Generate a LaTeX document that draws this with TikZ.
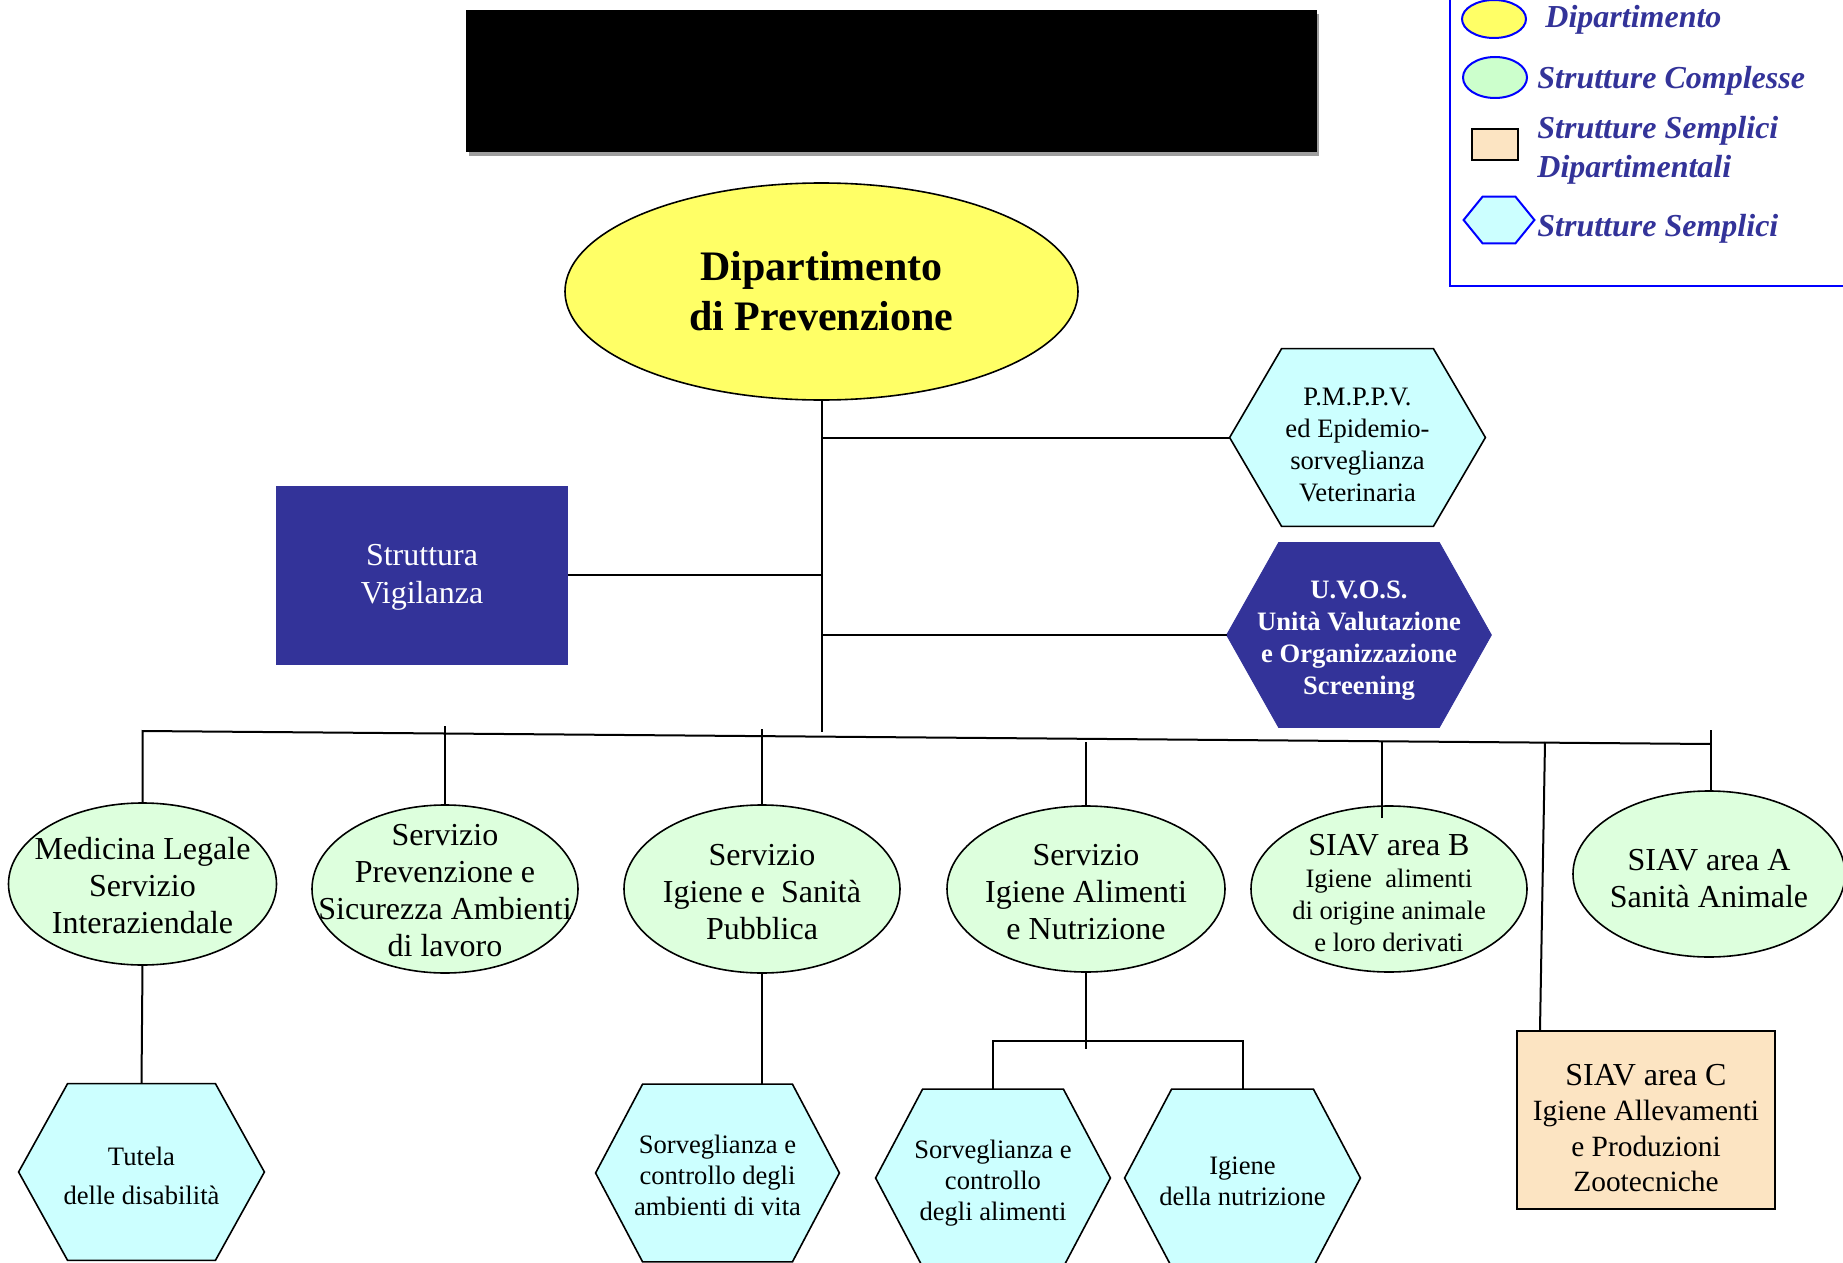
\documentclass[tikz,border=0pt]{standalone}
\usepackage{fontspec}
\setmainfont{Liberation Serif}
\usetikzlibrary{shapes.geometric}
\definecolor{navyb}{HTML}{333399}
\definecolor{yelf}{HTML}{FFFF66}
\definecolor{grnf}{HTML}{DDFFDD}
\definecolor{grnl}{HTML}{CCFFCC}
\definecolor{cyanf}{HTML}{CCFFFF}
\definecolor{wheatf}{HTML}{FCE4C2}
\definecolor{legb}{HTML}{0000FF}
\newcommand\szBig{\fontsize{16}{18.5}\selectfont}
\newcommand\szHex{\fontsize{13.3}{15.5}\selectfont}
\newcommand\szPM{\fontsize{13.3}{16}\selectfont}
% name, cx, cy, hw, hh, inset (px), shape style, text style, text
\newcommand\hexnode[9]{%
  \node[inner sep=0pt, minimum width=#4pt, minimum height=#5pt] (#1) at (#2,#3) {};
  \path[#7] (#1.west) -- ([xshift=#6*0.5pt]#1.north west) -- ([xshift=-#6*0.5pt]#1.north east) -- (#1.east) -- ([xshift=-#6*0.5pt]#1.south east) -- ([xshift=#6*0.5pt]#1.south west) -- cycle;
  \node[#8] (#1-t) at (#1.center) {#9};
}
\tikzset{
  conn/.style={line width=1pt, draw=black},
  ellnode/.style={ellipse, inner sep=0pt, draw=black, line width=0.8pt},
  cplx/.style={ellnode, fill=grnf},
  lbl/.style={align=center, inner sep=0pt, text=black},
  hexs/.style={draw=black, line width=0.8pt, fill=cyanf},
  legtxt/.style={anchor=base west, inner sep=0pt, text=navyb, font=\fontsize{16}{19}\selectfont\bfseries\itshape},
}
\begin{document}
\begin{tikzpicture}[x=0.5pt,y=-0.5pt]
\useasboundingbox (0,0) rectangle (1843,1263);
\fill[white] (0,0) rectangle (1843,1263);

% title bar
\fill[black!38] (469,14) rectangle (1319,156);
\fill[black] (466,10) rectangle (1317,152);

% legend
\draw[legb, line width=1.3pt] (1450,-5) -- (1450,286) -- (1850,286);
\node[ellnode, draw=legb, line width=1pt, fill=yelf, minimum width=32pt, minimum height=19pt] (lg1) at (1494,19) {};
\node[legtxt] (lg1-t) at (1545,28) {Dipartimento};
\node[ellnode, draw=legb, line width=1pt, fill=grnl, minimum width=32pt, minimum height=20.5pt] (lg2) at (1495,77.5) {};
\node[legtxt] (lg2-t) at (1537,89) {Strutture Complesse};
\node[draw=black, line width=1pt, fill=wheatf, inner sep=0pt, minimum width=23pt, minimum height=15.5pt] (lg3) at (1495,144.5) {};
\node[legtxt] (lg3-t) at (1537,139) {Strutture Semplici};
\node[legtxt] (lg3-u) at (1537,177) {Dipartimentali};
\hexnode{lg4}{1499}{220}{35}{23}{19}{draw=legb, line width=1pt, fill=cyanf}{lbl}{}
\node[legtxt] (lg4-t) at (1537,236) {Strutture Semplici};

% main department
\node[ellnode, fill=yelf, minimum width=256.5pt, minimum height=108.5pt] (dep) at (821.5,291.5) {};
\node[lbl, font=\fontsize{21}{25}\selectfont\bfseries] (dep-t) at (dep.center) {Dipartimento\\di Prevenzione};

% Struttura Vigilanza
\node[fill=navyb, inner sep=0pt, minimum width=146pt, minimum height=89.5pt] (sv) at (422,575) {};
\node[lbl, text=white, font=\fontsize{16}{19}\selectfont] (sv-t) at ([yshift=-1pt]sv.center) {Struttura\\Vigilanza};

% right hexagons
\hexnode{pm}{1357.5}{437.5}{127.5}{88.5}{52}{hexs}{lbl, font=\szPM, yshift=-3.5pt}{P.M.P.P.V.\\ed Epidemio-\\sorveglianza\\Veterinaria}
\hexnode{uv}{1359}{635}{132}{92}{52}{fill=navyb, draw=navyb}{lbl, text=white, yshift=-3pt, font=\fontsize{13.3}{16}\selectfont\bfseries}{U.V.O.S.\\Unità Valutazione\\e Organizzazione\\Screening}

% complex structures
\node[cplx, minimum width=134pt, minimum height=81pt] (ml) at (142.5,884) {};
\node[lbl, font=\szBig] (ml-t) at ([yshift=-1pt]ml.center) {Medicina Legale\\Servizio\\Interaziendale};
\node[cplx, minimum width=133pt, minimum height=84pt] (sp) at (445,889) {};
\node[lbl, font=\szBig] (sp-t) at ([yshift=-1pt]sp.center) {Servizio\\Prevenzione e\\Sicurezza Ambienti\\di lavoro};
\node[cplx, minimum width=138pt, minimum height=84pt] (isp) at (762,889) {};
\node[lbl, font=\szBig] (isp-t) at ([yshift=-1.5pt]isp.center) {Servizio\\Igiene e\ \ Sanità\\Pubblica};
\node[cplx, minimum width=139pt, minimum height=83pt] (ian) at (1086,889) {};
\node[lbl, font=\szBig] (ian-t) at ([yshift=-1.5pt]ian.center) {Servizio\\Igiene Alimenti\\e Nutrizione};
\node[cplx, minimum width=138pt, minimum height=83pt] (siavB) at (1389,889) {};
\node[lbl, font=\fontsize{13.3}{16}\selectfont] (siavB-t) at ([yshift=-2pt]siavB.center) {{\fontsize{16}{16}\selectfont SIAV area B}\\Igiene\ \ alimenti\\di origine animale\\e loro derivati};
\node[cplx, minimum width=136pt, minimum height=83pt] (siavA) at (1709,874) {};
\node[lbl, font=\szBig] (siavA-t) at ([yshift=-2.5pt]siavA.center) {SIAV area A\\Sanità Animale};

% SIAV area C
\node[draw=black, line width=1pt, fill=wheatf, inner sep=0pt, minimum width=129pt, minimum height=89pt] (siavC) at (1646,1120) {};
\node[lbl, font=\fontsize{14.7}{17.75}\selectfont] (siavC-t) at ([yshift=-4pt]siavC.center) {{\fontsize{16}{17.75}\selectfont SIAV area C}\\Igiene Allevamenti\\e Produzioni\\Zootecniche};

% simple structures (bottom)
\hexnode{tut}{141.5}{1172}{122.5}{88}{49}{hexs}{lbl, yshift=-2pt, font=\fontsize{13.3}{19.5}\selectfont}{Tutela\\delle disabilità}
\hexnode{sca}{717.5}{1173}{121.5}{88.5}{47}{hexs}{lbl, yshift=-1pt, font=\szHex}{Sorveglianza e\\controllo degli\\ambienti di vita}
\hexnode{sal}{993}{1178}{117}{88.5}{47}{hexs}{lbl, yshift=-2.5pt, font=\szHex}{Sorveglianza e\\controllo\\degli alimenti}
\hexnode{nut}{1242.5}{1178}{117.5}{88.5}{47}{hexs}{lbl, yshift=-1.5pt, font=\szHex}{Igiene\\della nutrizione}

% connectors
\coordinate (busL) at (142,731);
\coordinate (busR) at (1711,744);
\coordinate (ianbar) at (1087,1041);
\draw[conn] (dep.south) -- ++(0,331);
\draw[conn] (pm.west) -- (dep.south |- pm.west);
\draw[conn] (uv.west) -- (dep.south |- uv.west);
\draw[conn] (sv.east) -- (dep.south |- sv.east);
\draw[conn] (ml.north) -- (ml.north |- busL) -- (busR);
\draw[conn] (sp.north) -- ++(0,-78);
\draw[conn] (isp.north) -- ++(0,-75);
\draw[conn] (ian.north) -- ++(0,-63);
\draw[conn] ([xshift=-3.5pt]siavB.north) ++(0,13) -- ++(0,-77);
\draw[conn] ([xshift=12pt]siavC.north west) -- ++(5,-288);
\draw[conn] ([xshift=1pt]siavA.north) -- ++(0,-60);
\draw[conn] (ml.south) -- (tut.north);
\draw[conn] (isp.south) -- (isp.south |- sca.north);
\draw[conn] (ian.south) -- ++(0,76);
\draw[conn] (sal.north) -- (sal.north |- ianbar) -- (nut.north |- ianbar) -- (nut.north);
\end{tikzpicture}
\end{document}
